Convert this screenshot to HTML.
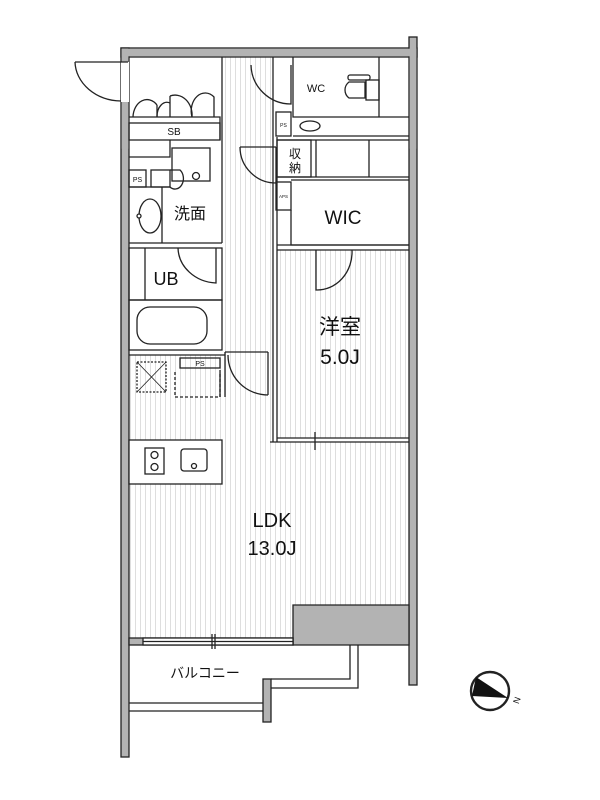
<!DOCTYPE html>
<html><head><meta charset="utf-8"><style>
html,body{margin:0;padding:0;background:#fff;}
svg{display:block;}
text{font-family:"Liberation Sans","Noto Sans CJK JP",sans-serif;fill:#111;}
</style></head><body>
<svg width="600" height="800" viewBox="0 0 600 800" xmlns="http://www.w3.org/2000/svg">
<defs>
<pattern id="wood" width="5" height="10" patternUnits="userSpaceOnUse">
<rect width="5" height="10" fill="#fff"/>
<line x1="0.5" y1="0" x2="0.5" y2="10" stroke="#d6d6d6" stroke-width="0.8"/>
</pattern>
</defs>
<g stroke="#222" stroke-width="1.3" fill="none">
<!-- wood floors -->
<rect x="225" y="57" width="48" height="385" fill="url(#wood)" stroke="none"/>
<rect x="277" y="250" width="132" height="188" fill="url(#wood)" stroke="none"/>
<rect x="129" y="355" width="96" height="85" fill="url(#wood)" stroke="none"/>
<path d="M129 442 H409 V605 H293 V638 H129 Z" fill="url(#wood)" stroke="none"/>

<!-- outer walls -->
<rect x="121" y="48" width="296" height="9" fill="#b3b3b3"/>
<rect x="121" y="48" width="8" height="709" fill="#b3b3b3"/>
<rect x="409" y="37" width="8" height="648" fill="#b3b3b3"/>
<rect x="121.7" y="48.7" width="294.6" height="7.6" fill="#b3b3b3" stroke="none"/>
<rect x="121.7" y="48.7" width="6.6" height="100" fill="#b3b3b3" stroke="none"/>
<rect x="409.7" y="48.7" width="6.6" height="100" fill="#b3b3b3" stroke="none"/>
<path d="M293 605 H409 V645 H293 Z" fill="#b3b3b3"/>
<rect x="129" y="638" width="164" height="7" fill="#b3b3b3"/>
<!-- window at LDK -->
<rect x="143" y="638" width="150" height="7" fill="#fff"/>
<line x1="143" y1="641.5" x2="293" y2="641.5"/>
<line x1="212" y1="634" x2="212" y2="649"/><line x1="215" y1="634" x2="215" y2="649"/>

<!-- entrance door -->
<rect x="121" y="62" width="8" height="40" fill="#fff" stroke="none"/>
<line x1="75" y1="62" x2="128" y2="62"/>
<path d="M75 62 A47 40 0 0 0 121 101"/>

<!-- SB closet -->
<path d="M129 117 H220 V140"/>
<rect x="129" y="123" width="91" height="17"/>
<path d="M133 117 A14 18 0 0 1 157 105"/><path d="M157 105 L157 117"/>
<path d="M157 117 A10 14 0 0 1 170 103"/>
<path d="M170 117 V96"/><path d="M170 96 A17 20 0 0 1 192 117"/>
<path d="M192 117 A14 18 0 0 1 214 97 V117"/>
<text x="174" y="135" font-size="10" text-anchor="middle" stroke="none">SB</text>

<!-- washroom -->
<path d="M222 57 V243"/>
<path d="M129 243 H222"/>
<path d="M170 140 V157 H129"/>
<rect x="129" y="170" width="17" height="17"/>
<text x="137.5" y="182" font-size="7" text-anchor="middle" stroke="none">PS</text>
<rect x="172" y="148" width="38" height="33"/>
<rect x="151" y="170" width="19" height="17"/>
<path d="M170 170 H180 A8 10 0 0 1 170 187"/>
<circle cx="196" cy="176" r="3.5"/>
<path d="M162 187 V243"/>
<path d="M129 187 H170"/>
<ellipse cx="150" cy="216" rx="11" ry="17"/>
<circle cx="139" cy="216" r="2" fill="#fff"/>
<text x="190" y="219" font-size="16" text-anchor="middle" stroke="none">洗面</text>

<!-- UB -->
<rect x="129" y="248" width="93" height="52"/>
<line x1="145" y1="248" x2="145" y2="300"/>
<rect x="129" y="300" width="93" height="50"/>
<rect x="137" y="307" width="70" height="37" rx="13"/>
<path d="M178 248 A40 36 0 0 0 216 283 V248"/>
<text x="166" y="285" font-size="18" text-anchor="middle" stroke="none">UB</text>

<!-- PS and storage -->
<path d="M129 355 H225"/>
<rect x="180" y="358" width="40" height="10"/>
<text x="200" y="366" font-size="7" text-anchor="middle" stroke="none">PS</text>
<rect x="137" y="362" width="29" height="30" stroke-dasharray="2,1.5"/>
<line x1="137" y1="362" x2="166" y2="392" stroke-width="0.8"/>
<line x1="166" y1="362" x2="137" y2="392" stroke-width="0.8"/>
<path d="M175 372 V397 H220 V372" stroke-dasharray="3,2"/>
<path d="M220 370 V397"/>

<!-- corridor walls / door -->
<path d="M225 352 H268"/>
<path d="M225 352 V397"/>
<path d="M228 355 A40 40 0 0 0 268 395"/>
<path d="M268 352 V395"/>

<!-- right side: WC -->
<path d="M273 57 V442"/>
<path d="M277 137 V442"/>
<path d="M293 57 V117 H409"/>
<path d="M379 57 V117"/>
<path d="M251 65 A40 40 0 0 0 291 104 V65"/>
<rect x="276" y="112" width="15" height="24"/>
<text x="283.5" y="127" font-size="5" text-anchor="middle" stroke="none">PS</text>
<path d="M293 136 H409"/>
<ellipse cx="310" cy="126" rx="10" ry="5"/>
<rect x="348" y="75" width="22" height="5" rx="2"/>
<path d="M365 82 H349 A10 10 0 0 0 349 98 H365 Z"/>
<rect x="366" y="80" width="13" height="20"/>
<text x="316" y="92" font-size="11" text-anchor="middle" stroke="none">WC</text>

<!-- 収納 -->
<path d="M277 140 H409"/>
<path d="M277 177 H409"/>
<rect x="277" y="140" width="34" height="37"/>
<path d="M316 140 V177 M369 140 V177"/>
<path d="M240 147 A36 36 0 0 0 276 183 V147"/>
<path d="M240 147 H276"/>
<text x="295" y="158" font-size="12" text-anchor="middle" stroke="none">収</text>
<text x="295" y="172" font-size="12" text-anchor="middle" stroke="none">納</text>

<!-- WIC -->
<rect x="276" y="182" width="15" height="28"/>
<text x="283.5" y="198" font-size="4.5" text-anchor="middle" stroke="none">APS</text>
<path d="M291 180 H409 M291 210 V245 H409"/>
<path d="M277 245 H409"/>
<text x="343" y="224" font-size="19" text-anchor="middle" stroke="none">WIC</text>

<!-- 洋室 -->
<path d="M277 250 H409"/>
<path d="M316 250 V290 A35 38 0 0 0 352 250"/>
<path d="M270 442 H409"/>
<path d="M277 438 H409"/>
<line x1="315" y1="432" x2="315" y2="450"/>
<text x="340" y="334" font-size="21" text-anchor="middle" stroke="none">洋室</text>
<text x="340" y="364" font-size="21" text-anchor="middle" stroke="none">5.0J</text>

<!-- kitchen -->
<rect x="129" y="440" width="93" height="44" fill="#fff"/>
<rect x="145" y="448" width="19" height="26"/>
<circle cx="154.5" cy="455" r="3.5"/><circle cx="154.5" cy="467" r="3.5"/>
<rect x="181" y="449" width="26" height="22" rx="3"/>
<circle cx="194" cy="466" r="2.5"/>

<text x="272" y="527" font-size="20" text-anchor="middle" stroke="none">LDK</text>
<text x="272" y="555" font-size="20" text-anchor="middle" stroke="none">13.0J</text>

<!-- balcony -->
<path d="M350 645 V679 H271 M358 645 V688 H271"/>
<rect x="263" y="679" width="8" height="43" fill="#b3b3b3"/>
<path d="M129 703 H263 M129 711 H263"/>
<text x="205" y="678" font-size="14" text-anchor="middle" stroke="none">バルコニー</text>

<!-- compass -->
<circle cx="490" cy="691" r="19" stroke-width="2.4" fill="#fff"/>
<path d="M476 677 L508 698 L472 696 Z" fill="#111" stroke="none"/>
<text x="516" y="704" font-size="9" text-anchor="middle" stroke="none" transform="rotate(-70 516 700)">N</text>
</g>
</svg>
</body></html>
